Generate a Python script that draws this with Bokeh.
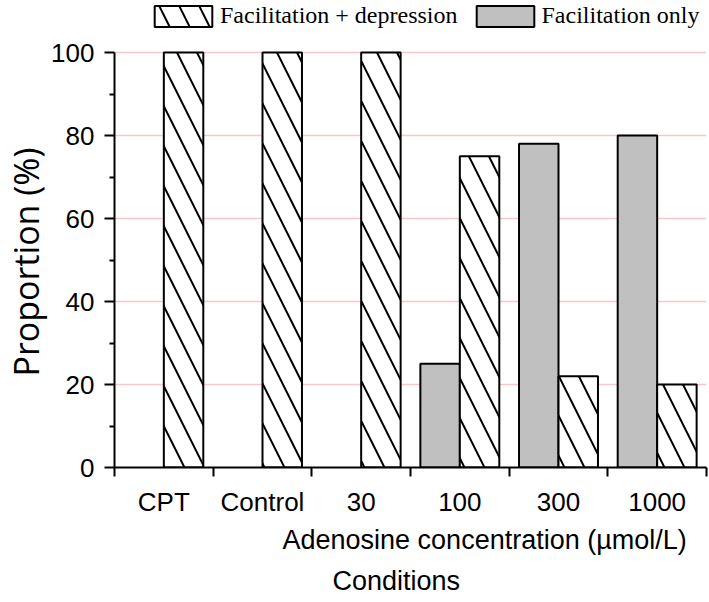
import numpy as np
from bokeh.plotting import figure
from bokeh.models import Range1d, FixedTicker, Legend, LegendItem, Title, ColumnDataSource
from bokeh.embed import file_html
from bokeh.resources import INLINE

categories = ["CPT", "Control", "30", "100", "300", "1000"]
fac_dep = [100, 100, 100, 75, 22, 20]      # Facilitation + depression (hatched)
fac_only = [0, 0, 0, 25, 78, 80]           # Facilitation only (grey)
y_ticks = [0, 20, 40, 60, 80, 100]
y_minor = [10, 30, 50, 70, 90]

idx = np.arange(len(categories))

# frame: 0..100 spans 415 px, plus 52 px of headroom for the legend
y_top = 100 * (415 + 52) / 415

p = figure(width=709, height=602, output_backend="svg", toolbar_location=None,
           x_range=Range1d(0, len(categories)), y_range=Range1d(0, y_top),
           min_border_left=114, min_border_right=3, min_border_top=0, min_border_bottom=135)
p.outline_line_color = None
p.background_fill_color = "white"

# grey bars (only non-zero)
fo = np.array(fac_only, dtype=float)
m = fo > 0
src_g = ColumnDataSource(dict(x=(idx + 0.3)[m], top=fo[m]))
r_g = p.vbar(x="x", top="top", bottom=0, width=0.4, source=src_g,
             fill_color="#c0c0c0", line_color="black", line_width=2)

src_h = ColumnDataSource(dict(x=idx + 0.7, top=np.array(fac_dep, dtype=float)))
r_h = p.vbar(x="x", top="top", bottom=0, width=0.4, source=src_h,
             fill_color="white", line_color="black", line_width=2,
             hatch_pattern="\\", hatch_color="black", hatch_weight=2, hatch_scale=40)

# axes
xa = p.xaxis[0]
xa.ticker = FixedTicker(ticks=list(idx + 0.5), minor_ticks=list(range(len(categories) + 1)))
xa.major_label_overrides = {float(i + 0.5): c for i, c in zip(idx, categories)}
xa.major_tick_out = 0
xa.major_tick_in = 0
xa.minor_tick_out = 9
xa.minor_tick_in = 0
xa.minor_tick_line_width = 2
xa.minor_tick_line_color = "black"
xa.axis_line_width = 2
xa.axis_line_color = "black"
xa.major_label_standoff = 10
xa.major_label_text_font = "Liberation Sans"
xa.major_label_text_font_size = "26px"
xa.major_label_text_color = "black"

ya = p.yaxis[0]
ya.bounds = (0, 100)
ya.ticker = FixedTicker(ticks=y_ticks, minor_ticks=y_minor)
ya.major_tick_out = 10
ya.major_tick_in = 0
ya.minor_tick_out = 5
ya.minor_tick_in = 0
ya.major_tick_line_width = 2
ya.minor_tick_line_width = 2
ya.major_tick_line_color = "black"
ya.minor_tick_line_color = "black"
ya.axis_line_width = 2
ya.axis_line_color = "black"
ya.major_label_standoff = 10
ya.major_label_text_font = "Liberation Sans"
ya.major_label_text_font_size = "26px"
ya.major_label_text_color = "black"

p.xgrid.grid_line_color = None
p.ygrid.ticker = FixedTicker(ticks=y_ticks[1:])
p.ygrid.grid_line_color = "#f5c6cb"
p.ygrid.grid_line_width = 1.5

# titles
p.add_layout(Title(text="Proportion (%)", align="left", offset=91, standoff=0,
                   text_font="Open Sans", text_font_size="34px",
                   text_font_style="normal", text_color="black"), "left")
p.add_layout(Title(text="Adenosine concentration (\u00b5mol/L)", align="left", offset=168,
                   standoff=6, text_font="Liberation Sans", text_font_size="27px",
                   text_font_style="normal", text_color="black"), "below")
p.add_layout(Title(text="Conditions", align="left", offset=218, standoff=12,
                   text_font="Liberation Sans", text_font_size="27px",
                   text_font_style="normal", text_color="black"), "below")

legend = Legend(items=[LegendItem(label="Facilitation + depression", renderers=[r_h]),
                       LegendItem(label="Facilitation only", renderers=[r_g])],
                orientation="horizontal", location=(33, 438),
                glyph_width=72, glyph_height=26, label_standoff=1, spacing=11,
                padding=2, margin=0, border_line_color=None, background_fill_alpha=0,
                label_text_font="Liberation Serif", label_text_font_size="24px",
                label_text_color="black")
p.add_layout(legend)

open("out.html", "w").write(file_html(p, INLINE))
